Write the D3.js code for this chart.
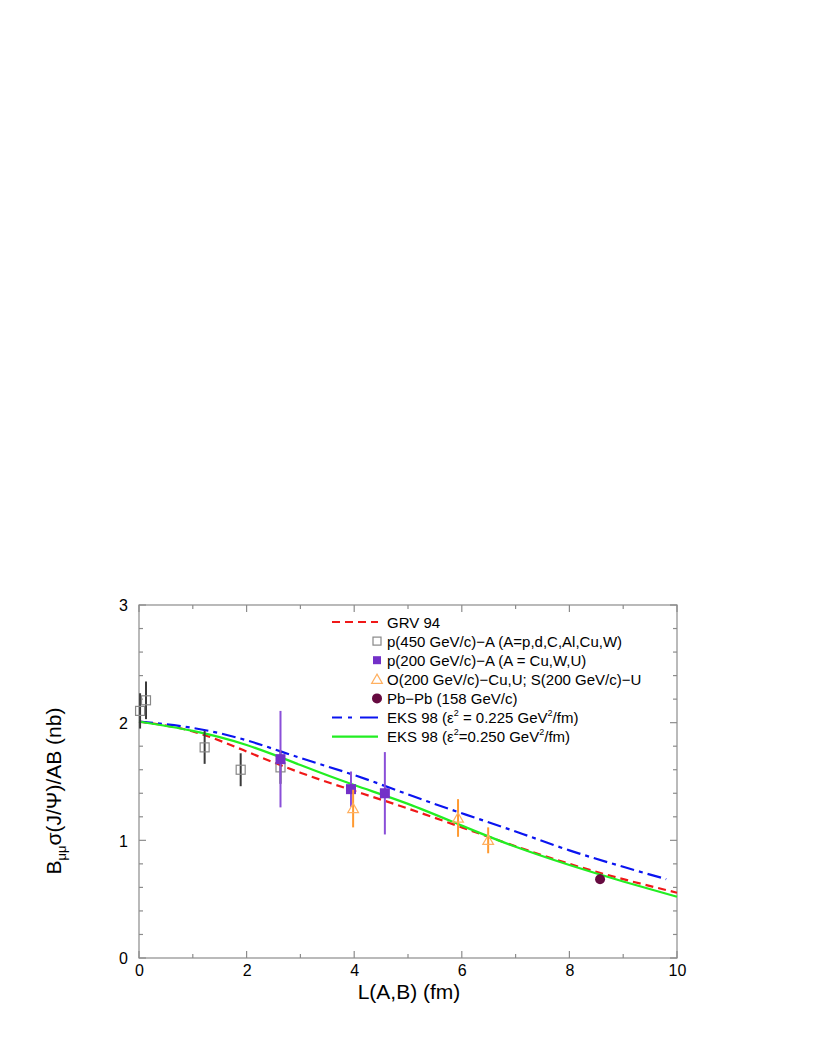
<!DOCTYPE html>
<html><head><meta charset="utf-8">
<script src="https://cdn.jsdelivr.net/npm/d3@7"></script>
<style>
body{margin:0;background:#fff;}
svg{display:block;font-family:"Liberation Sans",Arial,Helvetica,sans-serif;}
</style></head>
<body>
<svg id="c" width="817" height="1058"></svg>
<script>
// ---- data ----
const curveL = [0,1,2,3,4,5,6,7,8,9,10];
const grv94 = [2.01,1.925,1.755,1.575,1.42,1.27,1.11,0.95,0.80,0.67,0.555];
const eks250 = [2.01,1.93,1.81,1.64,1.47,1.31,1.125,0.945,0.79,0.65,0.52];
const eks225L = [0,1,2,3,4,5,6,7,8,9,9.8];
const eks225 = [2.01,1.955,1.85,1.70,1.555,1.39,1.23,1.075,0.915,0.775,0.67];

const p450L = [0.02,0.13,1.22,1.89,2.63];
const p450Y = [2.10,2.19,1.79,1.60,1.62];
const p450E = [0.15,0.16,0.14,0.14,0.14];

const p200L = [2.63,3.94,4.57];
const p200Y = [1.69,1.435,1.40];
const p200E = [0.41,0.15,0.35];

const osL = [3.98,5.93,6.49];
const osY = [1.27,1.19,1.00];
const osE = [0.16,0.16,0.11];

const pbL = [8.57];
const pbY = [0.67];
const pbE = [0.04];

const xTicks = [0,2,4,6,8,10];
const yTicks = [0,1,2,3];

// ---- layout ----
const svg = d3.select("#c");
const x = d3.scaleLinear().domain([0,10]).range([139,677]);
const y = d3.scaleLinear().domain([0,3]).range([958,605]);
const frame = "#8c8c8c";

svg.append("rect").attr("x",x(0)).attr("y",y(3)).attr("width",x(10)-x(0)).attr("height",y(0)-y(3))
  .attr("fill","none").attr("stroke",frame).attr("stroke-width",1.2);

const xMinor = d3.range(0,10.01,1), yMinor = d3.range(0,3.001,0.2);
(function tickLines(){
  const g = svg.append("g").attr("stroke",frame).attr("stroke-width",1.2);
  xMinor.forEach(v=>{
    const major = Math.abs(v/2-Math.round(v/2))<1e-6;
    const len = major?7:4;
    g.append("line").attr("x1",x(v)).attr("x2",x(v)).attr("y1",y(0)).attr("y2",y(0)-len);
    g.append("line").attr("x1",x(v)).attr("x2",x(v)).attr("y1",y(3)).attr("y2",y(3)+len);
  });
  yMinor.forEach(v=>{
    const major = Math.abs(v-Math.round(v))<1e-6;
    const len = major?7:4;
    g.append("line").attr("y1",y(v)).attr("y2",y(v)).attr("x1",x(0)).attr("x2",x(0)+len);
    g.append("line").attr("y1",y(v)).attr("y2",y(v)).attr("x1",x(10)).attr("x2",x(10)-len);
  });
})();

const xAxis = d3.axisBottom(x).tickValues(xTicks).tickSize(0).tickPadding(0).tickFormat(d3.format("d"));
const xg = svg.append("g").attr("transform",`translate(0,${y(0)+18})`).call(xAxis);
xg.select(".domain").remove();
xg.selectAll("text").attr("font-size",16).attr("fill","#000").attr("dy",0);
const yAxis = d3.axisLeft(y).tickValues(yTicks).tickSize(0).tickPadding(0).tickFormat(d3.format("d"));
const yg = svg.append("g").attr("transform",`translate(${x(0)-11},0)`).call(yAxis);
yg.select(".domain").remove();
yg.selectAll("text").attr("font-size",16).attr("fill","#000").attr("dy","0.36em");
svg.selectAll(".tick text").attr("font-family","'Liberation Sans',Arial,sans-serif");

svg.append("text").attr("x",(x(0)+x(10))/2+1).attr("y",999).attr("text-anchor","middle")
  .attr("font-size",21).text("L(A,B) (fm)");
const yt = svg.append("text").attr("transform",`translate(61,${791}) rotate(-90)`).attr("text-anchor","middle").attr("font-size",21);
yt.append("tspan").text("B");
yt.append("tspan").attr("font-size",13).attr("dy",5).text("μμ");
yt.append("tspan").attr("dy",-5).text("σ(J/Ψ)/AB (nb)");

const line = d3.line().x(d=>x(d[0])).y(d=>y(d[1])).curve(d3.curveNatural);
const plot = svg.append("g");
plot.append("path").datum(curveL.map((l,i)=>[l,grv94[i]])).attr("d",line)
  .attr("fill","none").attr("stroke","#f01818").attr("stroke-width",2.2).attr("stroke-dasharray","8,5");
plot.append("path").datum(eks225L.map((l,i)=>[l,eks225[i]])).attr("d",line)
  .attr("fill","none").attr("stroke","#0a14f0").attr("stroke-width",2.2).attr("stroke-dasharray","14,5,4,5");
plot.append("path").datum(curveL.map((l,i)=>[l,eks250[i]])).attr("d",line)
  .attr("fill","none").attr("stroke","#22ee22").attr("stroke-width",2.2);

function errs(L,Y,E,col){
  plot.append("g").selectAll("line").data(L).join("line")
    .attr("x1",d=>x(d)).attr("x2",d=>x(d))
    .attr("y1",(d,i)=>y(Y[i]-E[i])).attr("y2",(d,i)=>y(Y[i]+E[i]))
    .attr("stroke",col).attr("stroke-width",2);
}
errs(p450L,p450Y,p450E,"#3a3a3a");
plot.append("g").selectAll("rect").data(p450L).join("rect")
  .attr("x",d=>x(d)-4.5).attr("y",(d,i)=>y(p450Y[i])-4.5).attr("width",9).attr("height",9)
  .attr("fill","none").attr("stroke","#888").attr("stroke-width",1.2);
errs(p200L,p200Y,p200E,"#8a4fd8");
plot.append("g").selectAll("rect").data(p200L).join("rect")
  .attr("x",d=>x(d)-5).attr("y",(d,i)=>y(p200Y[i])-5).attr("width",10).attr("height",10)
  .attr("fill","#7330c8");
errs(osL,osY,osE,"#ff9a30");
const tri = d3.symbol().type(d3.symbolTriangle).size(50);
plot.append("g").selectAll("path").data(osL).join("path")
  .attr("d",tri).attr("transform",(d,i)=>`translate(${x(d)},${y(osY[i])+1})`)
  .attr("fill","none").attr("stroke","#ffb060").attr("stroke-width",1.2);
errs(pbL,pbY,pbE,"#5a0a3a");
plot.append("g").selectAll("circle").data(pbL).join("circle")
  .attr("cx",d=>x(d)).attr("cy",(d,i)=>y(pbY[i])).attr("r",5)
  .attr("fill","#660a40");

const leg = svg.append("g").attr("font-size",15);
const rowY = i => 622 + i*19.1;
const lx1=332, lx2=378, tx=387, sx=377;
function legText(i,parts){
  const t = leg.append("text").attr("x",tx).attr("y",rowY(i)+5.5);
  parts.forEach(p=>{
    const s = t.append("tspan").text(p[0]);
    if(p[1]==="sup") s.attr("font-size",9).attr("dy",-7);
    if(p[1]==="down") s.attr("dy",7);
  });
}
leg.append("line").attr("x1",lx1).attr("x2",lx2).attr("y1",rowY(0)).attr("y2",rowY(0))
  .attr("stroke","#f01818").attr("stroke-width",2.2).attr("stroke-dasharray","8,5");
legText(0,[["GRV 94"]]);
leg.append("rect").attr("x",sx-4).attr("y",rowY(1)-4).attr("width",8).attr("height",8)
  .attr("fill","none").attr("stroke","#888").attr("stroke-width",1.2);
legText(1,[["p(450 GeV/c)−A (A=p,d,C,Al,Cu,W)"]]);
leg.append("rect").attr("x",sx-4).attr("y",rowY(2)-4).attr("width",8).attr("height",8)
  .attr("fill","#7330c8");
legText(2,[["p(200 GeV/c)−A (A = Cu,W,U)"]]);
leg.append("path").attr("d",tri).attr("transform",`translate(${sx},${rowY(3)+1})`)
  .attr("fill","none").attr("stroke","#ffb060").attr("stroke-width",1.2);
legText(3,[["O(200 GeV/c)−Cu,U; S(200 GeV/c)−U"]]);
leg.append("circle").attr("cx",sx).attr("cy",rowY(4)).attr("r",5).attr("fill","#660a40");
legText(4,[["Pb−Pb (158 GeV/c)"]]);
leg.append("line").attr("x1",lx1).attr("x2",lx2).attr("y1",rowY(5)).attr("y2",rowY(5))
  .attr("stroke","#0a14f0").attr("stroke-width",2.2).attr("stroke-dasharray","10,6,4,8,18");
legText(5,[["EKS 98 (ε"],["2","sup"],[" = 0.225 GeV","down"],["2","sup"],["/fm)","down"]]);
leg.append("line").attr("x1",lx1).attr("x2",lx2).attr("y1",rowY(6)).attr("y2",rowY(6))
  .attr("stroke","#22ee22").attr("stroke-width",2.2);
legText(6,[["EKS 98 (ε"],["2","sup"],["=0.250 GeV","down"],["2","sup"],["/fm)","down"]]);
</script>
</body></html>
